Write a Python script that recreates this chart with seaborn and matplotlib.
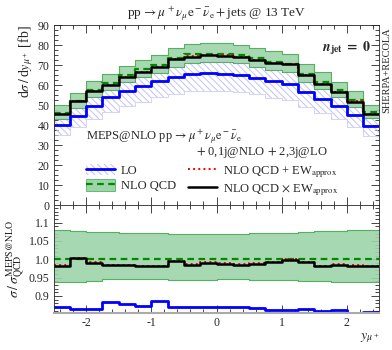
import matplotlib
matplotlib.use("Agg")
import matplotlib.pyplot as plt
import seaborn as sns
from matplotlib.ticker import MultipleLocator, FixedLocator, FixedFormatter
from matplotlib.patches import Patch
from matplotlib.lines import Line2D

# bins in y_mu+
edges = [-2.5, -2.25, -2.0, -1.75, -1.5, -1.25, -1.0, -0.75, -0.5, -0.25, 0.0,
         0.25, 0.5, 0.75, 1.0, 1.25, 1.5, 1.75, 2.0, 2.25, 2.5]

# main panel values [fb]
nlo = [46.4, 52.0, 57.8, 61.2, 65.2, 68.1, 70.2, 73.6, 75.5, 75.9,
       75.8, 75.2, 73.6, 71.9, 70.6, 65.7, 61.8, 57.5, 52.8, 46.5]
nlo_x_ew = [45.6, 52.2, 57.2, 60.2, 64.1, 66.9, 69.0, 73.2, 74.4, 75.2,
            74.9, 74.1, 72.7, 71.3, 70.5, 65.2, 60.6, 56.6, 51.9, 45.6]
nlo_p_ew = [45.7, 52.2, 57.4, 60.3, 64.1, 66.9, 69.0, 73.3, 74.5, 75.3,
            75.0, 74.2, 72.8, 71.4, 70.6, 65.3, 60.7, 56.7, 52.0, 45.7]
lo = [40.3, 44.9, 49.9, 54.0, 57.2, 59.5, 62.2, 64.0, 65.6, 66.0,
      65.9, 65.4, 63.9, 62.0, 60.9, 56.7, 53.1, 49.6, 45.1, 39.8]

# scale uncertainty bands, relative to central value
nlo_up = [1.080, 1.078, 1.075, 1.075, 1.071, 1.071, 1.071, 1.069, 1.069, 1.069,
          1.069, 1.069, 1.071, 1.071, 1.071, 1.074, 1.076, 1.078, 1.080, 1.080]
nlo_dn = [0.937, 0.939, 0.942, 0.945, 0.945, 0.945, 0.945, 0.944, 0.944, 0.944,
          0.946, 0.945, 0.944, 0.944, 0.944, 0.942, 0.941, 0.939, 0.937, 0.937]
lo_up = [1.10] * 20
lo_dn = [0.87] * 20

GREEN_FILL = "#9dd5aa"
GREEN_EDGE = "#55b060"
DARK_GREEN = "#008a00"
HATCH_COL = "#c2c2f4"


def ext(v):
    return list(v) + [v[-1]]


def step(ax, vals, **kw):
    sns.lineplot(x=edges, y=ext(vals), ax=ax, drawstyle="steps-post",
                 estimator=None, sort=False, legend=False, **kw)


def band(ax, lo_vals, hi_vals, **kw):
    ax.fill_between(edges, ext(lo_vals), ext(hi_vals), step="post", **kw)


sns.set_theme(style="ticks")
plt.rcParams["font.family"] = ["Liberation Serif", "DejaVu Serif"]
plt.rcParams["mathtext.fontset"] = "stix"
plt.rcParams["hatch.linewidth"] = 0.7
plt.rcParams["xtick.direction"] = "in"
plt.rcParams["ytick.direction"] = "in"

fig = plt.figure(figsize=(3.92, 3.5), dpi=100)
ax = fig.add_axes([0.1365, 0.4129, 0.8316, 0.5143])
rax = fig.add_axes([0.1365, 0.1049, 0.8316, 0.3080])

# ---- main panel
lo_hi = [c * u for c, u in zip(lo, lo_up)]
lo_lo = [c * d for c, d in zip(lo, lo_dn)]
band(ax, lo_lo, lo_hi, facecolor="none", edgecolor=HATCH_COL, hatch="\\\\\\\\\\", linewidth=0)
step(ax, lo_hi, color=HATCH_COL, linewidth=0.5)
step(ax, lo_lo, color=HATCH_COL, linewidth=0.5)

nlo_hi = [c * u for c, u in zip(nlo, nlo_up)]
nlo_lo = [c * d for c, d in zip(nlo, nlo_dn)]
band(ax, nlo_lo, nlo_hi, facecolor=GREEN_FILL, edgecolor="none", alpha=0.9)
step(ax, nlo_hi, color=GREEN_EDGE, linewidth=0.8)
step(ax, nlo_lo, color=GREEN_EDGE, linewidth=0.8)

step(ax, lo, color="#0000ff", linewidth=2.0)
step(ax, nlo, color=DARK_GREEN, linewidth=1.6, linestyle=(0, (3, 2)))
step(ax, nlo_p_ew, color="red", linewidth=1.4, linestyle=":")
step(ax, nlo_x_ew, color="black", linewidth=1.8)

ax.set_xlim(-2.5, 2.5)
ax.set_ylim(0, 90)
ax.xaxis.set_major_locator(MultipleLocator(1))
ax.xaxis.set_minor_locator(MultipleLocator(0.2))
ax.yaxis.set_major_locator(MultipleLocator(10))
ax.yaxis.set_minor_locator(MultipleLocator(2.5))
ax.tick_params(which="both", top=True, right=True, labelbottom=False, labelsize=8.5, pad=3)
ax.tick_params(which="major", length=6, width=0.6)
ax.tick_params(which="minor", length=3, width=0.6)
ax.set_xlabel("")
ax.set_ylabel(r"d$\sigma\,/\,$d$y_{\mu^+}$ [fb]", fontsize=10, loc="top", labelpad=2)
for s in ax.spines.values():
    s.set_linewidth(0.6)

ax.set_title(r"pp$\,\rightarrow\mu^+\nu_\mu\mathrm{e}^-\bar{\nu}_\mathrm{e}+$jets @ 13 TeV",
             fontsize=9.5, pad=6)
ax.text(0.975, 0.875, r"$\mathbfit{n}_{\mathbf{jet}}\ \mathbf{=}\ \mathbf{0}$",
        transform=ax.transAxes, ha="right", va="center", fontsize=10)
fig.text(0.987, 0.80, "SHERPA+RECOLA", rotation=90, ha="center", va="center", fontsize=7.5)

ax.text(0.10, 0.382, r"MEPS@NLO pp$\,\rightarrow\mu^+\nu_\mu\mathrm{e}^-\bar{\nu}_\mathrm{e}$",
        transform=ax.transAxes, ha="left", va="center", fontsize=9)
ax.text(0.84, 0.297, r"$+$ 0,1j@NLO $+$ 2,3j@LO", transform=ax.transAxes,
        ha="right", va="center", fontsize=9)

handles = [
    (Patch(facecolor="white", edgecolor=HATCH_COL, hatch="\\\\\\\\\\", linewidth=0),
     Line2D([], [], color="#0000ff", linewidth=2.0)),
    (Patch(facecolor=GREEN_FILL, edgecolor=GREEN_EDGE, linewidth=0.6),
     Line2D([], [], color=DARK_GREEN, linewidth=1.6, linestyle=(0, (3, 2)))),
    Line2D([], [], color="red", linewidth=1.4, linestyle=":"),
    Line2D([], [], color="black", linewidth=1.8),
]
labels = ["LO", "NLO QCD", r"NLO QCD + EW$_\mathrm{approx}$",
          r"NLO QCD $\times$ EW$_\mathrm{approx}$"]
ax.legend(handles, labels, ncol=2, loc="upper left", bbox_to_anchor=(0.08, 0.265),
          frameon=False, fontsize=9, handlelength=2.3, handleheight=1.0,
          columnspacing=1.0, labelspacing=0.2, handletextpad=0.5, borderpad=0)

# ---- ratio panel
band(rax, nlo_dn, nlo_up, facecolor=GREEN_FILL, edgecolor="none", alpha=0.9)
step(rax, nlo_up, color=GREEN_EDGE, linewidth=0.8)
step(rax, nlo_dn, color=GREEN_EDGE, linewidth=0.8)
step(rax, [c / n for c, n in zip(lo, nlo)], color="#0000ff", linewidth=2.0)
step(rax, [1.0] * 20, color=DARK_GREEN, linewidth=1.6, linestyle=(0, (3, 2)))
step(rax, [c / n for c, n in zip(nlo_p_ew, nlo)], color="red", linewidth=1.4, linestyle=":")
step(rax, [c / n for c, n in zip(nlo_x_ew, nlo)], color="black", linewidth=1.8)

rax.set_xlim(-2.5, 2.5)
rax.set_ylim(0.8525, 1.147)
rax.xaxis.set_major_locator(MultipleLocator(1))
rax.xaxis.set_minor_locator(MultipleLocator(0.2))
rax.yaxis.set_major_locator(FixedLocator([0.9, 0.95, 1.0, 1.05, 1.1]))
rax.yaxis.set_major_formatter(FixedFormatter(["0.9", "0.95", "1.0", "1.05", "1.1"]))
rax.yaxis.set_minor_locator(MultipleLocator(0.01))
rax.tick_params(which="both", top=True, right=True, labelsize=8.5, pad=3)
rax.tick_params(which="major", length=6, width=0.6)
rax.tick_params(which="minor", length=3, width=0.6)
rax.set_xticks([-2, -1, 0, 1, 2])
rax.set_xticklabels(["-2", "-1", "0", "1", "2"])
for s in rax.spines.values():
    s.set_linewidth(0.6)
rax.spines["bottom"].set_color("#aaaaaa")
rax.spines["bottom"].set_linewidth(1.5)
rax.set_ylabel(r"$\sigma\,/\,\sigma_\mathrm{QCD}^\mathrm{MEPS@NLO}$", fontsize=10, labelpad=1)
rax.set_xlabel(r"$y_{\mu^+}$", fontsize=10, loc="right", labelpad=1)

fig.savefig("out.png", dpi=100)
